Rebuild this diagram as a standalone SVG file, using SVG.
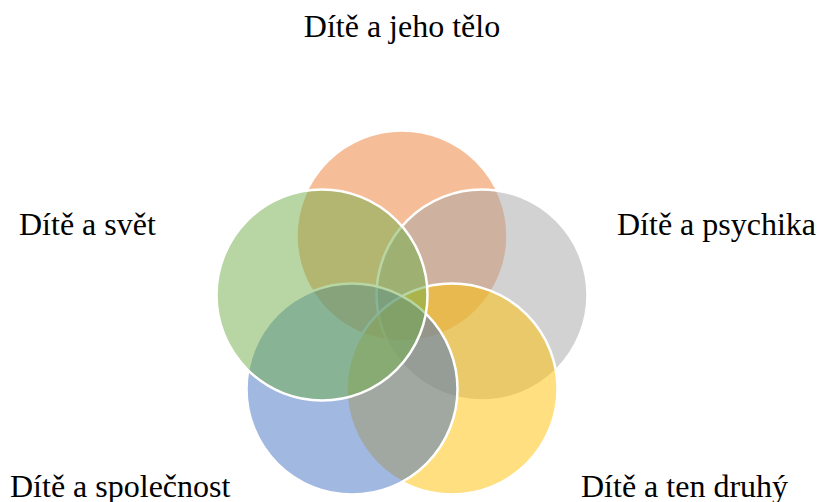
<svg xmlns="http://www.w3.org/2000/svg" width="818" height="502" viewBox="0 0 818 502">
<style>
.c{fill-opacity:0.5;stroke:#FFFFFF;stroke-width:2.5}
.t{font-family:"Liberation Serif","Times New Roman",serif;font-size:32px;fill:#000000}
</style>
<rect width="818" height="502" fill="#FFFFFF"/>
<g id="node-telo"><circle class="c" cx="402" cy="236" r="105.5" fill="#ED7D31"/></g>
<g id="node-psychika"><circle class="c" cx="482" cy="295" r="105.5" fill="#A5A5A5"/></g>
<g id="node-druhy"><circle class="c" cx="452" cy="389" r="105.5" fill="#FFC000"/></g>
<g id="node-spolecnost"><circle class="c" cx="352" cy="389" r="105.5" fill="#4472C4"/></g>
<g id="node-svet"><circle class="c" cx="322" cy="295" r="105.5" fill="#70AD47"/></g>
<g id="connectors"></g>
<g id="labels">
<text id="label-telo" class="t" x="402" y="37" text-anchor="middle">Dítě a jeho tělo</text>
<text id="label-svet" class="t" x="19" y="235">Dítě a svět</text>
<text id="label-psychika" class="t" x="617" y="235">Dítě a psychika</text>
<text id="label-spolecnost" class="t" x="10" y="497">Dítě a společnost</text>
<text id="label-druhy" class="t" x="581" y="497">Dítě a ten druhý</text>
</g>
</svg>
